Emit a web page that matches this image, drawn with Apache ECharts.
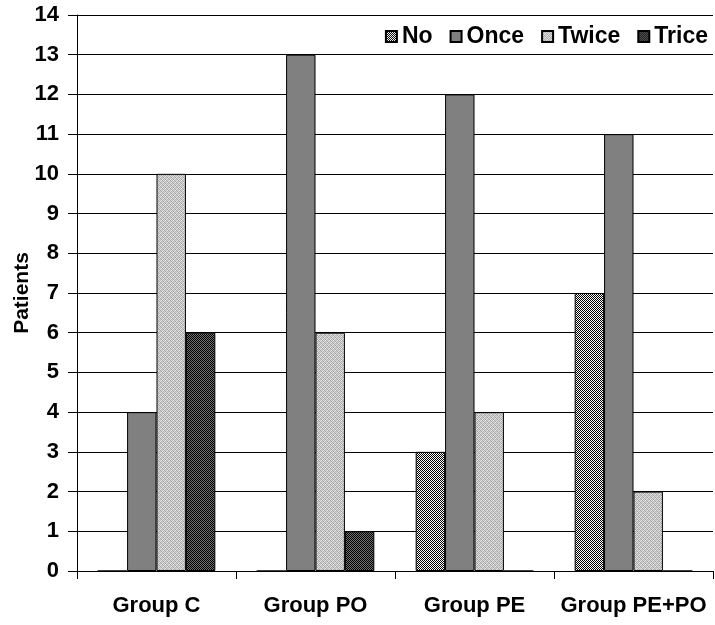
<!DOCTYPE html>
<html>
<head>
<meta charset="utf-8">
<script src="https://cdn.jsdelivr.net/npm/echarts@6/dist/echarts.min.js"></script>
<style>
html,body{margin:0;padding:0;background:#fff;}
#c{width:715px;height:625px;}
</style>
</head>
<body>
<div id="c"></div>
<script>
const categories = ['Group C', 'Group PO', 'Group PE', 'Group PE+PO'];
const seriesNames = ['No', 'Once', 'Twice', 'Trice'];
const noValues = [0, 0, 3, 7];
const onceValues = [4, 13, 12, 11];
const twiceValues = [10, 6, 4, 2];
const triceValues = [6, 1, 0, 0];
const yTicks = [0, 1, 2, 3, 4, 5, 6, 7, 8, 9, 10, 11, 12, 13, 14];

function makePattern(cells, size) {
  const cv = document.createElement('canvas');
  cv.width = size; cv.height = size;
  const ctx = cv.getContext('2d');
  for (let y = 0; y < size; y++) {
    for (let x = 0; x < size; x++) {
      ctx.fillStyle = cells[y][x];
      ctx.fillRect(x, y, 1, 1);
    }
  }
  return { image: cv, repeat: 'repeat' };
}
const B = '#000000', W = '#ffffff';
const noPattern = makePattern([
  [B, W, B, W],
  [W, B, W, B],
  [B, W, B, W],
  [W, B, W, B]
], 4);
const twicePattern = makePattern([
  ['#c0c0c0', '#e8e8e8', '#a8a8a8', '#d8d8d8'],
  ['#e0e0e0', '#b0b0b0', '#d0d0d0', '#a0a0a0'],
  ['#a8a8a8', '#d8d8d8', '#c0c0c0', '#e8e8e8'],
  ['#d0d0d0', '#a0a0a0', '#e0e0e0', '#b0b0b0']
], 4);
const G = '#707070';
const tricePattern = makePattern([
  [B, G, B, G],
  [G, B, G, B],
  [B, G, B, G],
  [G, B, G, B]
], 4);

const font = 'Liberation Sans, Arial, sans-serif';
const colors = [noPattern, '#808080', twicePattern, tricePattern];
const values = [noValues, onceValues, twiceValues, triceValues];

const chart = echarts.init(document.getElementById('c'));
chart.setOption({
  animation: false,
  backgroundColor: '#ffffff',
  grid: { left: 77, right: 2, top: 15, bottom: 54, containLabel: false, outerBoundsMode: 'none' },
  legend: {
    data: seriesNames,
    right: 2,
    top: 20,
    itemWidth: 11,
    itemHeight: 11,
    itemGap: 17,
    icon: 'rect',
    textStyle: { fontFamily: font, fontWeight: 'bold', fontSize: 23, color: '#000' }
  },
  xAxis: {
    type: 'category',
    data: categories,
    axisLine: { lineStyle: { color: '#000', width: 1 } },
    axisTick: { show: true, length: 8, alignWithLabel: false, lineStyle: { color: '#000' } },
    axisLabel: { fontFamily: font, fontWeight: 'bold', fontSize: 22, color: '#000', margin: 24, interval: 0 },
    splitLine: { show: false }
  },
  yAxis: {
    type: 'value',
    min: 0,
    max: 14,
    interval: 1,
    name: 'Patients',
    nameLocation: 'middle',
    nameGap: 44,
    nameMoveOverlap: false,
    nameTextStyle: { fontFamily: font, fontWeight: 'bold', fontSize: 21, color: '#000' },
    axisLine: { show: true, lineStyle: { color: '#000', width: 1 } },
    axisTick: { show: true, length: 9, lineStyle: { color: '#000' } },
    axisLabel: {
      fontFamily: font, fontWeight: 'bold', fontSize: 22, color: '#000', margin: 18,
      formatter: v => (yTicks.indexOf(v) >= 0 ? String(v) : '')
    },
    splitLine: { show: true, lineStyle: { color: '#000', width: 1 } }
  },
  series: seriesNames.map((name, i) => ({
    name: name,
    type: 'bar',
    data: values[i],
    barGap: '0%',
    barCategoryGap: '26%',
    itemStyle: { color: colors[i], borderColor: '#000', borderWidth: 1 }
  }))
});
</script>
</body>
</html>
